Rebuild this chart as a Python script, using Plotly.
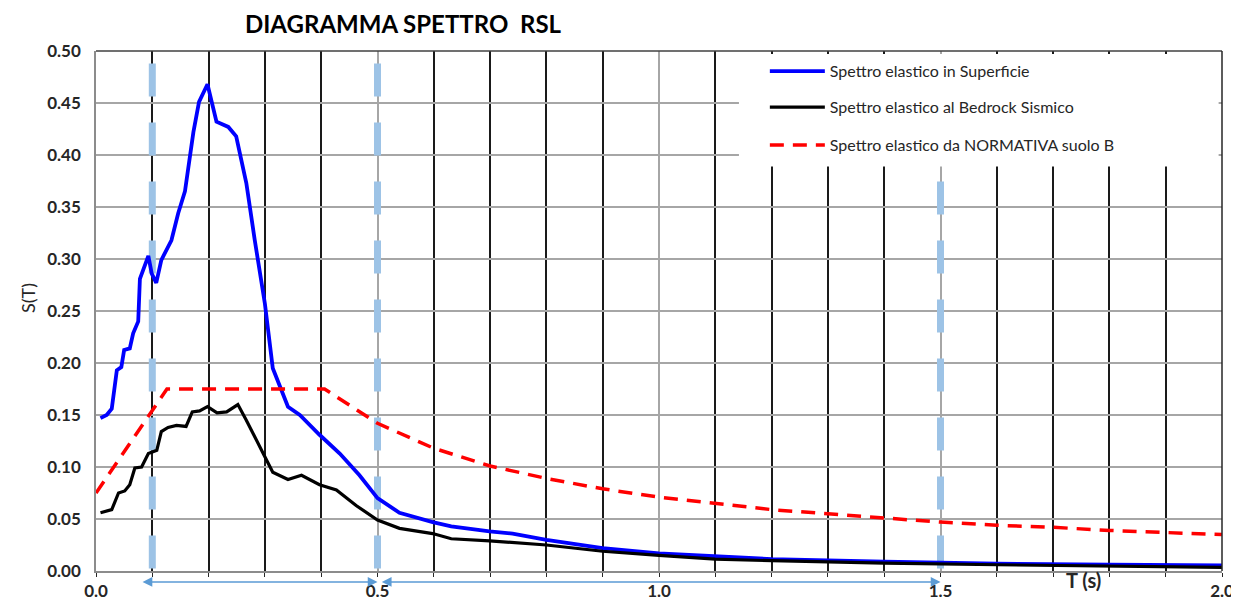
import plotly.graph_objects as go

# ---- data ----
T_sup = [0.008, 0.019, 0.028, 0.037, 0.045, 0.05, 0.06, 0.066, 0.075, 0.078,
         0.093, 0.099, 0.107, 0.116, 0.134, 0.146, 0.158, 0.173, 0.183, 0.198,
         0.214, 0.235, 0.249, 0.267, 0.282, 0.3, 0.314, 0.341, 0.362, 0.397,
         0.433, 0.468, 0.5, 0.539, 0.598, 0.631, 0.699, 0.74, 0.8, 0.9, 1.0,
         1.1, 1.2, 1.4, 1.6, 1.8, 2.0]
S_sup = [0.147, 0.15, 0.156, 0.193, 0.196, 0.2125, 0.214, 0.2285, 0.24, 0.281,
         0.303, 0.286, 0.277, 0.299, 0.318, 0.344, 0.365, 0.422, 0.451, 0.468,
         0.432, 0.427, 0.418, 0.373, 0.318, 0.257, 0.195, 0.158, 0.15, 0.131,
         0.113, 0.092, 0.07, 0.056, 0.047, 0.043, 0.038, 0.036, 0.030, 0.022, 0.017,
         0.0138, 0.0115, 0.009, 0.007, 0.006, 0.0055]

T_bed = [0.008, 0.028, 0.04, 0.051, 0.06, 0.069, 0.081, 0.093, 0.108, 0.116,
         0.128, 0.143, 0.16, 0.171, 0.184, 0.198, 0.215, 0.232, 0.252, 0.267,
         0.297, 0.314, 0.341, 0.365, 0.397, 0.427, 0.462, 0.5, 0.539, 0.598,
         0.631, 0.699, 0.8, 0.9, 1.0, 1.1, 1.2, 1.4, 1.6, 1.8, 2.0]
S_bed = [0.056, 0.059, 0.075, 0.077, 0.083, 0.099, 0.1, 0.113, 0.116, 0.134,
         0.138, 0.14, 0.139, 0.153, 0.154, 0.158, 0.152, 0.153, 0.16, 0.145,
         0.113, 0.095, 0.088, 0.092, 0.083, 0.078, 0.063, 0.049, 0.041, 0.036,
         0.031, 0.029, 0.025, 0.019, 0.015, 0.0115, 0.0099, 0.0075, 0.006, 0.0045, 0.0035]

T_norm = [0.0, 0.126, 0.406, 0.5, 0.6, 0.7, 0.8, 0.9, 1.0, 1.1, 1.2, 1.3, 1.4,
          1.5, 1.6, 1.7, 1.8, 1.9, 2.0]
S_norm = [0.075, 0.175, 0.175, 0.142, 0.118, 0.101, 0.089, 0.079, 0.071, 0.065,
          0.059, 0.055, 0.051, 0.047, 0.044, 0.042, 0.039, 0.037, 0.035]

names = ["Spettro elastico in Superficie",
         "Spettro elastico al Bedrock Sismico",
         "Spettro elastico da NORMATIVA suolo B"]

ref_periods = [0.1, 0.5, 1.5]          # light-blue dashed markers
arrow_spans = [(0.08, 0.5), (0.505, 1.5)]
x_ticks = [0.0, 0.5, 1.0, 1.5, 2.0]

FONT = "Lato"
DARK = "#262626"

fig = go.Figure()
fig.add_trace(go.Scatter(x=T_sup, y=S_sup, mode="lines", name=names[0],
                         line=dict(color="#0000FF", width=3.8), legend="legend"))
fig.add_trace(go.Scatter(x=T_bed, y=S_bed, mode="lines", name=names[1],
                         line=dict(color="#000000", width=3.2), legend="legend2"))
fig.add_trace(go.Scatter(x=T_norm, y=S_norm, mode="lines", name=names[2],
                         line=dict(color="#FF0000", width=3.5, dash="14px,9px"),
                         legend="legend3"))

shapes = []
for p in ref_periods:
    shapes.append(dict(type="line", xref="x", yref="y", x0=p, x1=p, y0=0.488, y1=0.0,
                       line=dict(color="#9DC3E6", width=7, dash="33px,26px"),
                       layer="between"))
# white legend box
shapes.append(dict(type="rect", xref="x", yref="y", x0=1.142, x1=1.994, y0=0.389, y1=0.497,
                   fillcolor="white", line=dict(width=0), layer="above"))
# top and right frame
shapes.append(dict(type="line", xref="paper", yref="paper", x0=0, x1=1, y0=1, y1=1,
                   line=dict(color="#404040", width=1.5), layer="above"))
shapes.append(dict(type="line", xref="paper", yref="paper", x0=1, x1=1, y0=0, y1=1,
                   line=dict(color=DARK, width=1.5), layer="above"))

annotations = []
for a, b in arrow_spans:
    annotations.append(dict(x=b, y=-0.021, xref="x", yref="paper", ax=a, ay=0,
                            axref="x", ayref="pixel", text="", showarrow=True,
                            arrowhead=2, arrowside="end+start", arrowsize=1.3,
                            arrowwidth=1.5, arrowcolor="#5B9BD5"))
annotations.append(dict(x=1.754, y=-0.0175, xref="x", yref="paper", text="T (s)",
                        showarrow=False, xanchor="center", yanchor="middle",
                        font=dict(family=FONT, size=20, color=DARK, weight="bold")))
annotations.append(dict(x=-0.0604, y=0.525, xref="paper", yref="paper", text="S(T)",
                        showarrow=False, xanchor="center", yanchor="middle",
                        textangle=-90,
                        font=dict(family=FONT, size=18, color=DARK)))

leg_common = dict(bgcolor="rgba(0,0,0,0)", borderwidth=0, xanchor="left",
                  yanchor="middle", itemwidth=55,
                  font=dict(family=FONT, size=16, color=DARK))
# page body adds an 8px margin, so the figure is 8px smaller and shifted
fig.update_layout(
    width=1231, height=595,
    margin=dict(l=88, r=17, t=43, b=32),
    paper_bgcolor="white", plot_bgcolor="white",
    title=dict(text="DIAGRAMMA SPETTRO\u00a0 RSL", x=0.3209, xref="container",
               xanchor="center", y=0.972, yref="container", yanchor="middle",
               font=dict(family=FONT, size=24, color="#000000", weight="bold")),
    xaxis=dict(range=[0, 2], tickvals=x_ticks, tickformat=".1f", automargin=False,
               showgrid=True, gridcolor="#A6A6A6", gridwidth=1.5,
               showline=True, linecolor="#8C8C8C", linewidth=1.5,
               zeroline=False, ticks="", ticklabelstandoff=4,
               minor=dict(dtick=0.1, tick0=0, showgrid=True, gridcolor="#1a1a1a",
                          gridwidth=1.5, ticks="outside", ticklen=4,
                          tickcolor=DARK),
               tickfont=dict(family=FONT, size=17, color=DARK, weight="bold")),
    yaxis=dict(range=[0, 0.5], dtick=0.05, tickformat=".2f", automargin=False,
               showgrid=True, gridcolor="#A6A6A6", gridwidth=1.5,
               showline=True, linecolor="#8C8C8C", linewidth=1.5,
               zeroline=False, ticks="", ticklabelstandoff=10,
               tickfont=dict(family=FONT, size=17, color=DARK, weight="bold")),
    shapes=shapes,
    annotations=annotations,
    showlegend=True,
    legend=dict(x=0.594, y=0.961, **leg_common),
    legend2=dict(x=0.594, y=0.892, **leg_common),
    legend3=dict(x=0.594, y=0.819, **leg_common),
)

fig.write_html("out.html")
